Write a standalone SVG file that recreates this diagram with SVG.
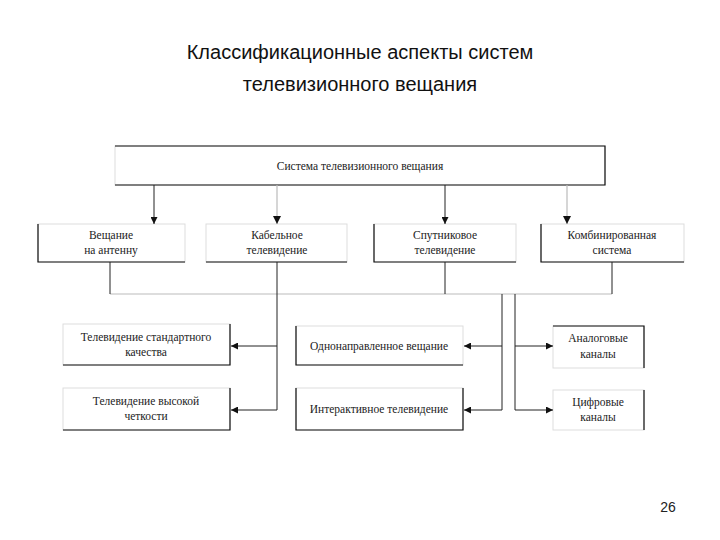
<svg xmlns="http://www.w3.org/2000/svg" width="720" height="540" viewBox="0 0 720 540">
<style>
.t{font-family:"Liberation Serif",serif;font-size:11.5px;fill:#222;text-anchor:middle}
.h{font-family:"Liberation Sans",Arial,sans-serif;font-size:20px;fill:#111;text-anchor:middle}
.lg{fill:none;stroke:#ddd;stroke-width:1}
.dk{fill:none;stroke:#111;stroke-width:1.2}
.c{fill:none;stroke:#222;stroke-width:1}
.cl{fill:none;stroke:#bbb;stroke-width:1.2}
</style>
<defs><marker id="a" viewBox="0 0 10 10" refX="10" refY="5" markerWidth="7" markerHeight="7" orient="auto"><path d="M0,0L10,5L0,10z" fill="#111"/></marker></defs>
<rect width="720" height="540" fill="#fff"/>
<text class="h" x="360" y="59">Классификационные аспекты систем</text>
<text class="h" x="360" y="91">телевизионного вещания</text>
<g id="top"><rect class="lg" x="115" y="146" width="490" height="39"/><path class="dk" d="M115,146H605V185H115"/><text class="t" x="360" y="170">Система телевизионного вещания</text></g>
<g id="n1"><rect class="lg" x="38" y="224" width="147" height="38"/><path class="dk" d="M38,224V262H185"/><text class="t" x="111" y="239">Вещание</text><text class="t" x="111" y="254">на антенну</text></g>
<g id="n2"><rect class="lg" x="206" y="224" width="141" height="38"/><path class="dk" d="M206,262H347"/><text class="t" x="277" y="239">Кабельное</text><text class="t" x="277" y="254">телевидение</text></g>
<g id="n3"><rect class="lg" x="374" y="224" width="142" height="38"/><path class="dk" d="M374,224V262H516"/><text class="t" x="445" y="239">Спутниковое</text><text class="t" x="445" y="254">телевидение</text></g>
<g id="n4"><rect class="lg" x="541" y="224" width="143" height="38"/><path class="dk" d="M541,224V262H684"/><text class="t" x="612" y="239">Комбинированная</text><text class="t" x="612" y="254">система</text></g>
<g id="n5"><rect class="lg" x="63" y="324" width="167" height="41"/><path class="dk" d="M230,324V365H63"/><text class="t" x="146" y="341">Телевидение стандартного</text><text class="t" x="146" y="356">качества</text></g>
<g id="n6"><rect class="lg" x="63" y="388" width="167" height="42"/><path class="dk" d="M230,388V430H63"/><text class="t" x="146" y="405">Телевидение высокой</text><text class="t" x="146" y="420">четкости</text></g>
<g id="n7"><rect class="lg" x="296" y="326" width="167" height="39"/><path class="dk" d="M296,326V365H463"/><text class="t" x="379" y="350">Однонаправленное вещание</text></g>
<g id="n8"><rect class="lg" x="296" y="388" width="167" height="42"/><path class="dk" d="M296,388V430H463V388"/><text class="t" x="379" y="413">Интерактивное телевидение</text></g>
<g id="n9"><rect class="lg" x="553" y="326" width="91" height="42"/><path class="dk" d="M553,326H644V368"/><text class="t" x="598" y="342">Аналоговые</text><text class="t" x="598" y="358">каналы</text></g>
<g id="n10"><rect class="lg" x="553" y="390" width="91" height="40"/><path class="dk" d="M644,390V430"/><text class="t" x="598" y="406">Цифровые</text><text class="t" x="598" y="421">каналы</text></g>
<g id="connectors">
<path class="c" d="M154,185V224" marker-end="url(#a)"/>
<path class="cl" d="M277,185V224" marker-end="url(#a)"/>
<path class="c" d="M445,185V224" marker-end="url(#a)"/>
<path class="cl" d="M567,185V224" marker-end="url(#a)"/>
<path class="cl" d="M110,294H612"/>
<path class="c" d="M110,262V294M445,262V294M612,262V294"/>
<path class="c" d="M277,262V410"/>
<path class="c" d="M502,294V410M515,294V410"/>
<path class="c" d="M277,346H231" marker-end="url(#a)"/>
<path class="c" d="M277,410H231" marker-end="url(#a)"/>
<path class="c" d="M502,346H464" marker-end="url(#a)"/>
<path class="c" d="M502,410H464" marker-end="url(#a)"/>
<path class="c" d="M515,346H553" marker-end="url(#a)"/>
<path class="c" d="M515,410H553" marker-end="url(#a)"/>
</g>
<text x="668" y="512" style="font-family:'Liberation Sans',Arial,sans-serif;font-size:14px;fill:#222;text-anchor:middle">26</text>
</svg>
